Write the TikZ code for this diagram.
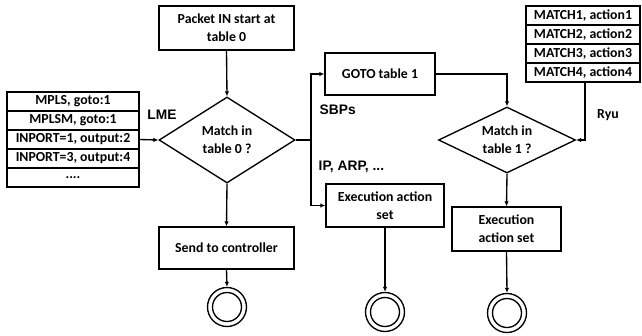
\documentclass[tikz,border=0pt]{standalone}
\usepackage{fontspec}
\setmainfont{Carlito}
\newfontfamily\arialf{Liberation Sans}
\usetikzlibrary{shapes.geometric,arrows.meta}
\begin{document}
\begin{tikzpicture}[x=1pt,y=-1pt,
  line width=1.35pt,
  font=\fontsize{13.8}{18}\selectfont\bfseries,
  box/.style={draw,rectangle,align=center,inner sep=0pt},
  row/.style={draw,rectangle,inner sep=0pt,line width=1.2pt},
  dia/.style={draw,diamond,align=center,inner sep=0pt},
  endc/.style={draw,circle,inner sep=0pt},
  arr/.style={-{Latex[length=5pt,width=4.5pt]}},
  lbl/.style={inner sep=0pt,font=\fontsize{13.8}{18}\selectfont\bfseries\arialf}
]
\useasboundingbox (0,0) rectangle (642,335);

% left table
\node[row,minimum width=132pt,minimum height=19pt] (l1) at (73,101.5) {MPLS, goto:1};
\node[row,minimum width=132pt,minimum height=19pt] (l2) at (73,120.5) {MPLSM, goto:1};
\node[row,minimum width=132pt,minimum height=19pt] (l3) at (73,139.5) {INPORT=1, output:2};
\node[row,minimum width=132pt,minimum height=19pt] (l4) at (73,158.5) {INPORT=3, output:4};
\node[row,minimum width=132pt,minimum height=19pt] (l5) at (73,177.5) {....};

% right table
\node[row,minimum width=114pt,minimum height=19pt] (m1) at (583,15.5) {MATCH1, action1};
\node[row,minimum width=114pt,minimum height=19pt] (m2) at (583,34.5) {MATCH2, action2};
\node[row,minimum width=114pt,minimum height=19pt] (m3) at (583,53.5) {MATCH3, action3};
\node[row,minimum width=114pt,minimum height=19pt] (m4) at (583,72.5) {MATCH4, action4};

% boxes
\node[box,minimum width=135pt,minimum height=44pt] (pkt) at (226.5,28) {Packet IN start at\\table 0};
\node[dia,minimum width=136pt,minimum height=86pt,aspect=1.58] (d1) at (227,140) {Match in\\table 0 ?};
\node[box,minimum width=135pt,minimum height=42pt] (send) at (226.5,248) {Send to controller};
\node[box,minimum width=110pt,minimum height=42pt] (goto) at (380,74) {GOTO table 1};
\node[box,minimum width=118pt,minimum height=43pt] (ex1) at (385,205.5) {Execution action\\set};
\node[dia,minimum width=137pt,minimum height=66pt,aspect=2.07] (d2) at (507,140) {Match in\\table 1 ?};
\node[box,minimum width=109pt,minimum height=44pt] (ex2) at (506.5,229) {Execution\\action set};

% end circles
\node[endc,minimum size=39pt] (e1) at (227,307) {};
\node[endc,minimum size=29pt] (e1i) at (227,307) {};
\node[endc,minimum size=39pt] (e2) at (385,312) {};
\node[endc,minimum size=29pt] (e2i) at (385,312) {};
\node[endc,minimum size=39pt] (e3) at (507,313) {};
\node[endc,minimum size=29pt] (e3i) at (507,313) {};

% labels
\node[lbl] (lme) at (162,115) {LME};
\node[lbl,anchor=west] (sbp) at (319,110) {SBPs};
\node[lbl,anchor=west] (iparp) at (318,167) {IP, ARP, ...};
\node[inner sep=0pt] (ryu) at (608,115) {Ryu};

% connectors
\coordinate (j) at (311,140);
\draw[arr] (pkt.south) -- (d1.north);
\draw[arr] (l3.east) -- (d1.west);
\draw[arr] (d1.south) -- (send.north);
\draw[arr] (send.south) -- (e1.north);
\draw (d1.east) -- (j);
\draw[arr] (j) |- (goto.west);
\draw[arr] (j) |- (ex1.west);
\draw[arr] (goto.east) -| (d2.north);
\draw[arr] ([xshift=2pt]m4.south) |- (d2.east);
\draw[arr] (d2.south) -- (ex2.north);
\draw[arr] (ex1.south) -- (e2.north);
\draw[arr] (ex2.south) -- (e3.north);
\end{tikzpicture}
\end{document}
